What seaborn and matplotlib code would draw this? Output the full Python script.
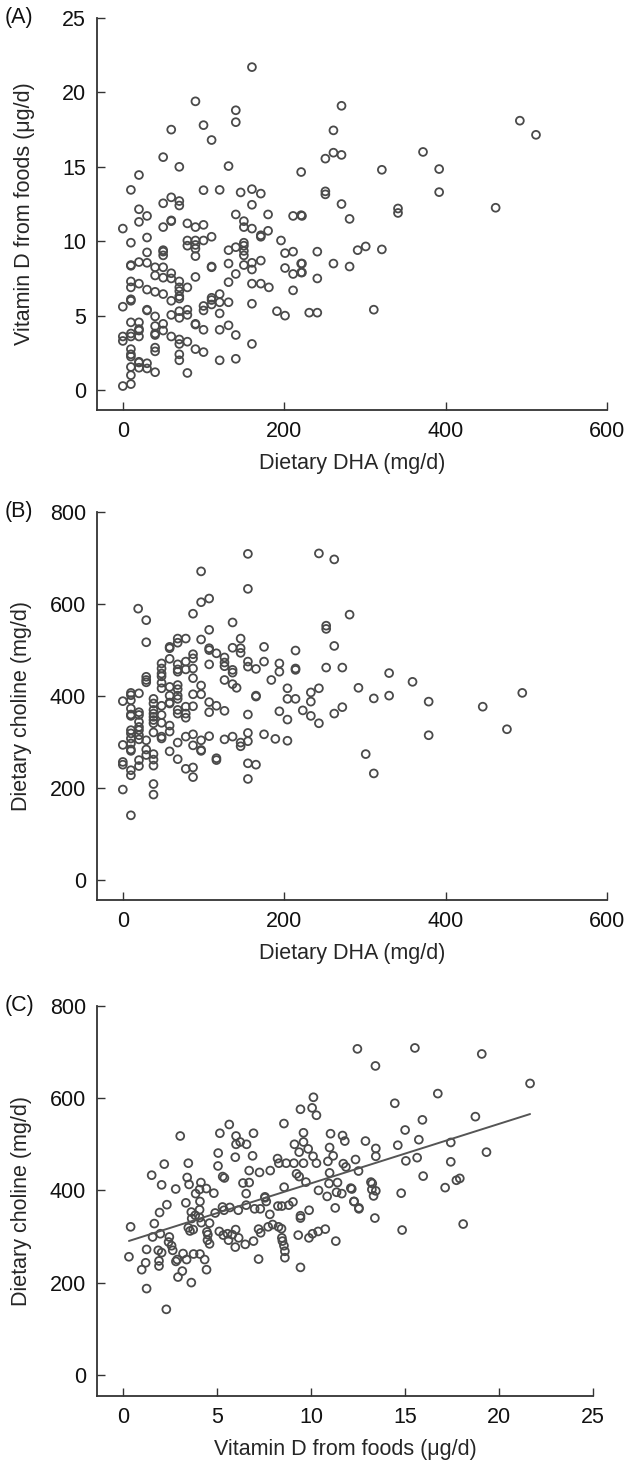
import matplotlib
matplotlib.use("Agg")
import matplotlib.pyplot as plt
import seaborn as sns
import numpy as np

# ---------------- data ----------------
# Panel A: Dietary DHA (mg/d) vs Vitamin D from foods (ug/d)
a_dha = [160, 90, 140, 140, 100, 60, 110, 50, 70, 131, 20, 10, 100, 120, 146, 160, 171, 221, 251, 261, 271, 261, 271, 251, 251,
         321, 372, 392, 392, 492, 512, 462, 271, 281, 341, 341, 222, 241, 291, 301, 321, 222, 222, 261, 281, 241, 231, 241, 311,
         50, 60, 70, 70, 20, 160,
         0, 20, 30, 50, 60, 60, 80, 90, 100, 140, 150, 150, 160, 180, 211, 221, 180, 171, 171, 196, 10, 30, 50, 50, 50, 80, 90, 100, 110,
         80, 90, 90, 90, 150, 150, 140, 131, 150, 150, 30, 201, 211,
         10, 10, 20, 30, 110, 110, 131, 150, 160, 171, 160, 40, 50, 40, 50, 60, 60, 70, 90, 140, 201, 211, 221, 221,
         10, 20, 10, 30, 40, 50, 70, 70, 80, 70, 131, 160, 171, 181, 120, 211,
         10, 10, 30, 30, 60, 70, 0, 100, 110, 110, 110, 100, 120, 131, 160, 80, 70, 60, 70, 80, 120, 40, 191, 201,
         10, 20, 20, 20, 40, 50, 50, 40, 40, 90, 90, 100, 120, 131, 0, 0, 10, 10, 20, 60, 70, 70, 80, 140, 160,
         40, 40, 90, 100, 70, 70, 10, 10, 10, 20, 20, 30, 10, 20, 30, 40, 80, 120, 140, 10, 0, 10]
a_vitd = [21.7, 19.4, 18.8, 18.0, 17.8, 17.5, 16.8, 15.65, 15.0, 15.05, 14.45, 13.45, 13.43, 13.45, 13.28, 13.5, 13.2, 14.65, 15.55, 15.95, 15.8, 17.45, 19.1, 13.35, 13.15,
          14.8, 16.0, 14.85, 13.3, 18.1, 17.15, 12.25, 12.5, 11.5, 12.2, 11.9, 11.7, 9.3, 9.4, 9.65, 9.45, 8.5, 7.9, 8.5, 8.3, 7.5, 5.2, 5.2, 5.4,
          12.55, 12.95, 12.7, 12.4, 12.15, 12.45,
          10.85, 11.3, 11.7, 10.95, 11.35, 11.4, 11.2, 10.95, 11.1, 11.8, 11.35, 10.95, 10.85, 11.8, 11.7, 11.75, 10.7, 10.3, 10.4, 10.05, 9.9, 10.25, 9.4, 9.3, 9.05, 10.05, 10.05, 10.05, 10.3,
          9.7, 9.75, 9.5, 9.0, 9.9, 9.7, 9.6, 9.4, 9.35, 9.05, 9.25, 9.2, 9.3,
          8.4, 8.35, 8.6, 8.55, 8.25, 8.3, 8.5, 8.4, 8.55, 8.7, 8.1, 8.25, 8.25, 7.7, 7.55, 7.85, 7.5, 7.3, 7.6, 7.8, 8.2, 7.8, 7.9, 8.5,
          7.3, 7.15, 6.9, 6.75, 6.6, 6.45, 6.9, 6.65, 6.9, 6.3, 7.25, 7.15, 7.15, 6.9, 6.45, 6.7,
          6.0, 6.1, 5.4, 5.35, 6.0, 6.15, 5.6, 5.65, 5.75, 6.05, 6.2, 5.35, 5.9, 5.9, 5.8, 5.4, 5.3, 5.05, 4.85, 5.05, 5.15, 4.95, 5.3, 5.0,
          4.55, 4.55, 4.1, 4.0, 4.3, 4.45, 4.0, 3.8, 3.7, 4.45, 4.4, 4.05, 4.05, 4.35, 3.6, 3.3, 3.8, 3.6, 3.6, 3.6, 3.4, 3.1, 3.25, 3.7, 3.1,
          2.85, 2.6, 2.75, 2.55, 2.4, 2.0, 2.75, 2.4, 2.25, 1.9, 1.85, 1.8, 1.55, 1.5, 1.45, 1.2, 1.15, 2.0, 2.1, 1.0, 0.27, 0.4]

# Panel B: Dietary DHA (mg/d) vs Dietary choline (mg/d)
b_dha = [155, 243, 262, 97, 155, 97, 107, 19, 29, 87, 281, 136, 107, 252, 252, 29, 58, 58, 68, 68, 78, 97, 107, 107, 116, 136, 146, 146, 146, 175, 214, 262,
         58, 48, 48, 48, 48, 68, 68, 68, 78, 78, 87, 87, 87, 107, 126, 126, 126, 136, 136, 155, 155, 165, 175, 194, 194, 214, 214, 252, 272, 29, 29, 184, 87,
         29, 48, 48, 58, 68, 68, 58, 68, 58, 68, 97, 87, 97, 126, 136, 141, 204, 204, 214, 233, 243, 233, 292, 165, 165, 0, 10, 10, 20, 10, 38, 38, 48, 58,
         78, 87, 107, 116, 126, 107, 155, 194, 204, 223, 233, 243, 262, 272, 10, 20, 20, 10, 10, 38, 38, 38, 38, 38, 48, 48, 58, 48, 48, 58, 68, 68, 78, 78,
         20, 20, 20, 10, 10, 10, 20, 20, 0, 10, 10, 10, 29, 38, 68, 78, 87, 87, 97, 107, 97, 126, 136, 146, 146, 155, 155, 175, 189, 204,
         29, 29, 38, 38, 38, 20, 20, 0, 0, 10, 10, 58, 68, 78, 87, 87, 97, 116, 116, 155, 165, 155, 0, 38, 38, 10,
         330, 359, 311, 330, 379, 379, 446, 476, 495, 301, 311]
b_choline = [709, 710, 697, 671, 633, 604, 612, 590, 565, 579, 577, 560, 544, 553, 546, 517, 507, 504, 516, 525, 525, 523, 504, 500, 493, 505, 504, 494, 525, 507, 499, 509,
             481, 471, 460, 449, 443, 469, 458, 453, 475, 458, 491, 482, 460, 469, 484, 473, 465, 457, 451, 475, 464, 459, 475, 471, 453, 460, 457, 462, 462, 442, 435, 435, 439,
             430, 429, 417, 420, 424, 415, 401, 401, 386, 394, 423, 404, 404, 435, 426, 418, 417, 394, 394, 408, 417, 388, 418, 401, 399, 389, 402, 407, 406, 391, 394, 384, 379, 384,
             377, 378, 387, 379, 368, 365, 360, 367, 349, 369, 357, 341, 362, 376, 373, 365, 359, 357, 360, 370, 362, 355, 348, 341, 359, 342, 336, 312, 308, 323, 370, 362, 362, 353,
             344, 333, 326, 326, 319, 308, 315, 306, 294, 297, 284, 281, 304, 321, 299, 312, 317, 293, 304, 313, 281, 306, 312, 299, 291, 320, 302, 317, 307, 303,
             284, 272, 274, 262, 249, 261, 248, 257, 251, 239, 228, 280, 263, 242, 245, 224, 283, 265, 261, 254, 251, 220, 197, 209, 186, 141,
             450, 431, 395, 401, 388, 315, 377, 328, 407, 274, 232]

# Panel C: Vitamin D from foods (ug/d) vs Dietary choline (mg/d)
c_vitd = [12.46, 10.12, 9.43, 10.05, 10.28, 8.55, 5.64, 3.03, 5.14, 6.93, 6.0, 6.0, 6.22, 6.56, 9.11, 9.59, 9.59, 9.84, 11.03, 11.67, 11.79, 12.89, 10.98,
          5.05, 5.96, 6.88, 9.36, 10.1, 11.17, 2.18, 3.46, 5.04, 5.29, 5.38, 6.7, 7.25, 7.82, 8.21, 8.28, 8.67, 9.08, 9.59, 10.28, 10.89, 11.71, 11.85,
          12.36, 12.52, 10.98, 9.22, 9.36, 1.51, 2.04, 2.79, 3.4, 3.5, 4.13, 4.42, 4.06, 3.85, 4.82, 6.37, 6.7, 6.54, 8.56, 9.72, 10.95, 11.4, 10.39,
          11.35, 11.63, 12.11, 10.85, 7.54, 7.54,
          2.32, 1.93, 3.33, 4.08, 3.62, 4.06, 3.83, 4.06, 3.64, 4.15, 0.39, 1.65, 1.97, 1.56, 3.46, 3.55, 3.72, 4.59, 4.45, 4.5, 4.48, 4.59,
          4.89, 5.28, 5.36, 5.67, 6.12, 6.54, 6.99, 7.29, 7.61, 7.8, 8.23, 8.44, 8.81, 9.03, 9.43, 9.43, 9.89, 11.28, 12.54, 12.29,
          5.11, 5.32, 5.55, 5.8, 5.98, 6.14, 5.6, 5.96, 6.49, 6.93, 7.2, 7.31, 7.71, 7.95, 8.26, 8.42, 8.44, 8.47, 8.55, 8.6, 8.6, 7.2,
          9.31, 9.88, 10.07, 10.37, 10.75, 11.31, 9.43, 0.3, 1.24, 0.98, 1.19, 1.24, 1.86, 1.9, 1.9, 2.04, 2.45, 2.41, 2.57, 2.63, 2.29,
          2.8, 2.87, 3.37, 3.18, 3.74, 4.08, 4.33, 4.43, 3.14, 2.91, 3.62,
          15.52, 19.08, 13.42, 21.65, 16.74, 14.45, 18.74, 15.92, 15.0, 13.44, 13.44, 14.61, 15.73, 17.43, 19.33, 15.04, 15.64, 17.43, 15.96,
          17.13, 17.73, 17.91, 13.18, 13.25, 13.23, 13.44, 13.32, 12.16, 12.27, 12.54, 14.79, 13.39, 14.84, 18.09]
c_choline = [707, 602, 576, 579, 563, 545, 543, 518, 524, 524, 518, 500, 505, 500, 500, 525, 505, 490, 523, 519, 507, 507, 493,
             481, 472, 475, 483, 474, 475, 457, 459, 453, 430, 427, 443, 439, 443, 469, 459, 459, 459, 459, 459, 463, 458, 451,
             467, 442, 438, 436, 430, 433, 412, 403, 428, 413, 417, 404, 402, 393, 394, 416, 417, 393, 407, 418, 415, 417, 400,
             396, 393, 405, 387, 386, 384,
             369, 352, 373, 376, 353, 358, 346, 341, 339, 330, 321, 328, 306, 299, 319, 312, 315, 329, 310, 304, 292, 284,
             351, 364, 357, 363, 357, 368, 360, 360, 376, 348, 366, 366, 368, 375, 345, 340, 357, 362, 362, 376,
             311, 303, 306, 304, 315, 297, 292, 277, 283, 290, 316, 308, 321, 326, 321, 317, 297, 290, 280, 268, 254, 251,
             303, 297, 306, 311, 316, 290, 233, 256, 272, 228, 243, 187, 270, 247, 236, 265, 299, 288, 280, 270, 142,
             246, 250, 250, 263, 262, 262, 250, 228, 225, 212, 200,
             709, 696, 670, 632, 610, 589, 560, 553, 531, 491, 474, 498, 510, 504, 483, 464, 471, 462, 431,
             406, 422, 426, 418, 415, 402, 399, 388, 403, 376, 360, 394, 340, 314, 327]

panel_tags = ["(A)", "(B)", "(C)"]
dha_ticks = [0, 200, 400, 600]
vitd_ticks = [0, 5, 10, 15, 20, 25]
choline_ticks = [0, 200, 400, 600, 800]
lbl_dha = "Dietary DHA (mg/d)"
lbl_vitd = "Vitamin D from foods (\u03bcg/d)"
lbl_chol = "Dietary choline (mg/d)"

# ---------------- style ----------------
sns.set_style("ticks")
plt.rcParams["font.family"] = ["Liberation Sans", "DejaVu Sans"]
FS = 15.5
EDGE = "#4a4a4a"
SPINE = "#333333"

W, H = 626, 1469
fig = plt.figure(figsize=(W / 100, H / 100), dpi=100)


def rect(l, r, t, b):
    return [l / W, 1 - b / H, (r - l) / W, (b - t) / H]


def style_ax(ax):
    sns.despine(ax=ax)
    for s in ("left", "bottom"):
        ax.spines[s].set_color(SPINE)
        ax.spines[s].set_linewidth(1.3)
    ax.tick_params(direction="in", length=6, width=1.0, color=SPINE,
                   labelsize=FS, pad=8, labelcolor="#111111")


def scatter(ax, x, y):
    sns.scatterplot(x=x, y=y, ax=ax, s=32, marker="o", facecolor="none",
                    edgecolor=EDGE, linewidth=1.3, legend=False)


# Panel A
axA = fig.add_axes(rect(97, 607, 18, 410))
scatter(axA, a_dha, a_vitd)
axA.set_xlim(-32, 600)
axA.set_ylim(-1.34, 25)
axA.set_xticks(dha_ticks)
axA.set_yticks(vitd_ticks)
axA.set_xlabel(lbl_dha, fontsize=FS, labelpad=8)
axA.set_ylabel(lbl_vitd, fontsize=FS, labelpad=19)
style_ax(axA)

# Panel B
axB = fig.add_axes(rect(97, 607, 512, 900))
scatter(axB, b_dha, b_choline)
axB.set_xlim(-32, 600)
axB.set_ylim(-43, 800)
axB.set_xticks(dha_ticks)
axB.set_yticks(choline_ticks)
axB.set_xlabel(lbl_dha, fontsize=FS, labelpad=8)
axB.set_ylabel(lbl_chol, fontsize=FS, labelpad=13)
style_ax(axB)

# Panel C
axC = fig.add_axes(rect(97, 593, 1006, 1396))
scatter(axC, c_vitd, c_choline)
sns.regplot(x=np.array(c_vitd), y=np.array(c_choline), ax=axC, scatter=False, ci=None,
            truncate=True, line_kws=dict(color="#555555", lw=1.4))
axC.set_xlim(-1.4, 25)
axC.set_ylim(-46, 800)
axC.set_xticks(vitd_ticks)
axC.set_yticks(choline_ticks)
axC.set_xlabel(lbl_vitd, fontsize=FS, labelpad=8)
axC.set_ylabel(lbl_chol, fontsize=FS, labelpad=13)
style_ax(axC)

for tag, ytop in zip(panel_tags, [18, 512, 1006]):
    fig.text(5 / W, 1 - ytop / H, tag, fontsize=FS, va="center", ha="left", color="#111111")

fig.savefig("out.png", dpi=100)
